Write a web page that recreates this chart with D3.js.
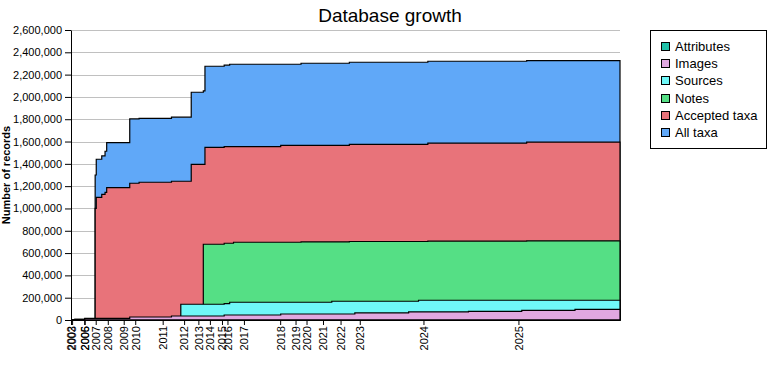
<!DOCTYPE html>
<html>
<head>
<meta charset="utf-8">
<script src="https://cdn.jsdelivr.net/npm/d3@7"></script>
<style>
  body { margin: 0; background: #fff; }
  svg { display: block; font-family: "Liberation Sans", Arial, sans-serif; }
</style>
</head>
<body>
<svg id="chart" width="780" height="380"></svg>
<script>
// Release sequence positions (x axis is ordered by release, not linear time)
const releaseSeq = [0, 0.7, 2.5, 4.4, 4.6, 5.6, 6.2, 6.5, 10.7, 12.4, 18.3, 20.0, 21.9, 24.1, 24.4, 27.9, 28.9, 29.6, 38.2, 41.9, 47.5, 50.7, 51.7, 61.5, 63.3, 65.0, 72.4, 82.1, 83.0, 91.8, 100];

const allTaxa      = [0, 6000, 12000, 1300000, 1441000, 1471000, 1513000, 1590000, 1803000, 1808000, 1818000, 1818000, 2042000, 2054000, 2275000, 2285000, 2293000, 2293000, 2293000, 2302000, 2302000, 2311000, 2311000, 2311000, 2311000, 2320000, 2320000, 2320000, 2326000, 2326000, 2326000];
const acceptedTaxa = [0, 6000, 12000, 1000000, 1100000, 1127000, 1145000, 1187000, 1226000, 1235000, 1244000, 1244000, 1396000, 1396000, 1547000, 1554000, 1554000, 1554000, 1566000, 1566000, 1566000, 1575000, 1575000, 1575000, 1575000, 1585000, 1585000, 1585000, 1595000, 1595000, 1595000];
const notes        = [0, 0, 0, 0, 0, 0, 0, 0, 0, 0, 0, 0, 0, 679000, 679000, 688000, 688000, 697000, 697000, 700000, 700000, 704000, 704000, 704000, 704000, 707000, 707000, 707000, 710000, 710000, 710000];
const sources      = [0, 0, 0, 0, 0, 0, 0, 0, 0, 0, 0, 141000, 141000, 141000, 141000, 146000, 159000, 159000, 159000, 159000, 168000, 168000, 168000, 168000, 177000, 177000, 177000, 177000, 177000, 177000, 177000];
const images       = [0, 0, 15000, 15000, 15000, 15000, 15000, 15000, 27000, 27000, 36000, 36000, 36000, 36000, 36000, 45000, 45000, 45000, 54000, 54000, 54000, 54000, 63000, 72000, 72000, 72000, 78000, 87000, 87000, 96000, 96000];
const attributes   = [0, 0, 0, 0, 0, 0, 0, 0, 0, 0, 0, 0, 0, 0, 0, 0, 0, 0, 0, 0, 0, 0, 0, 0, 0, 0, 0, 0, 0, 0, 0];

const tickYears = ["2002", "2003", "2005", "2006", "2007", "2008", "2009", "2010", "2011", "2012", "2013", "2014", "2015", "2016", "2017", "2018", "2019", "2020", "2021", "2022", "2023", "2024", "2025"];
const tickSeq   = [0, 0.2, 2.4, 2.5, 4.5, 6.7, 9.6, 11.7, 16.7, 20.6, 23.2, 25.3, 27.5, 28.5, 31.5, 38.1, 40.9, 42.9, 45.9, 49.1, 52.6, 64.2, 81.5];

const yTicks = d3.range(0, 2600001, 200000);

const seriesNames  = ["All taxa", "Accepted taxa", "Notes", "Sources", "Images", "Attributes"];
const seriesValues = [allTaxa, acceptedTaxa, notes, sources, images, attributes];
const seriesColors = ["#60a8f8", "#e8737a", "#55df85", "#6ff8f8", "#e0a8e0", "#20c0a8"];

(function () {
const svg = d3.select("#chart");
const pLeft = 71, pRight = 620, pTop = 30, pBottom = 320;

const x = d3.scaleLinear().domain([0, 100]).range([pLeft, pRight]);
const y = d3.scaleLinear().domain([0, 2600000]).range([pBottom, pTop]);

// title
svg.append("text").attr("x", 390).attr("y", 22).attr("text-anchor", "middle")
  .style("font-size", "19px").attr("fill", "#000").text("Database growth");

// gridlines
svg.append("g").selectAll("line").data(yTicks.filter(d => d > 0)).join("line")
  .attr("x1", pLeft).attr("x2", pRight)
  .attr("y1", d => Math.round(y(d)) + 0.5).attr("y2", d => Math.round(y(d)) + 0.5)
  .attr("stroke", "#c0c0c0").attr("stroke-width", 1);

// areas (overlaid, drawn from largest to smallest)
const idx = d3.range(releaseSeq.length);
seriesValues.forEach((vals, k) => {
  const area = d3.area()
    .curve(d3.curveStepAfter)
    .x(i => x(releaseSeq[i]))
    .y0(y(0))
    .y1(i => y(vals[i]));
  svg.append("path").datum(idx)
    .attr("d", area)
    .attr("fill", seriesColors[k])
    .attr("stroke", "#000")
    .attr("stroke-width", 1.2)
    .attr("stroke-linejoin", "miter");
});

// y axis
const yAxis = svg.append("g").attr("transform", `translate(${pLeft},0)`)
  .call(d3.axisLeft(y).tickValues(yTicks).tickFormat(d3.format(",")).tickSize(6).tickSizeOuter(0));
yAxis.selectAll("text").style("font-size", "11px").attr("fill", "#000");
yAxis.selectAll("line, path").attr("stroke", "#000");

// x axis
const xAxis = svg.append("g").attr("transform", `translate(0,${pBottom})`)
  .call(d3.axisBottom(x).tickValues(tickSeq).tickFormat((d, i) => tickYears[i]).tickSize(5).tickSizeOuter(0));
xAxis.selectAll("text")
  .attr("transform", "rotate(-90)")
  .attr("x", -6).attr("y", 0).attr("dy", "0.35em")
  .style("text-anchor", "end").style("font-size", "11px").attr("fill", "#000");
xAxis.selectAll("line, path").attr("stroke", "#000");

// y axis title
svg.append("text").attr("transform", "translate(10,175) rotate(-90)")
  .attr("text-anchor", "middle").style("font-size", "11px").style("font-weight", "bold")
  .text("Number of records");

// legend
const lg = svg.append("g");
lg.append("rect").attr("x", 650.5).attr("y", 30.5).attr("width", 116).attr("height", 118)
  .attr("fill", "#fff").attr("stroke", "#000").attr("stroke-width", 1);
const legendOrder = [5, 4, 3, 2, 1, 0];
legendOrder.forEach((k, i) => {
  const cy = 46.7 + i * 17.1;
  lg.append("rect").attr("x", 661.5).attr("y", Math.round(cy - 4.5) + 0.5).attr("width", 8).attr("height", 8)
    .attr("fill", seriesColors[k]).attr("stroke", "#000").attr("stroke-width", 1);
  lg.append("text").attr("x", 675).attr("y", cy + 4.5).style("font-size", "13px").attr("fill", "#000")
    .text(seriesNames[k]);
});
})();
</script>
</body>
</html>
